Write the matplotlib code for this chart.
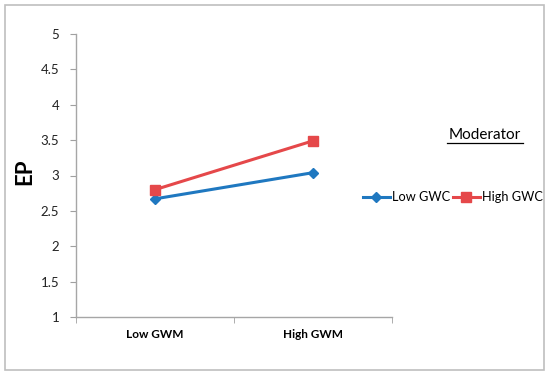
import matplotlib
matplotlib.use("Agg")
import matplotlib.pyplot as plt
from matplotlib.patches import Rectangle
from matplotlib.lines import Line2D

categories = ["Low GWM", "High GWM"]
low_gwc = [2.67, 3.04]
high_gwc = [2.80, 3.49]
yticks = [1, 1.5, 2, 2.5, 3, 3.5, 4, 4.5, 5]
ytick_labels = ["1", "1.5", "2", "2.5", "3", "3.5", "4", "4.5", "5"]

plt.rcParams['font.family'] = ['Lato', 'DejaVu Sans']

fig = plt.figure(figsize=(5.5, 3.76), dpi=100)
fig.patches.append(Rectangle((5/550, 6/376), 539/550, 365/376, transform=fig.transFigure,
                             fill=False, edgecolor='#BFBFBF', linewidth=1.2))

ax = fig.add_axes([76/550, 59/376, 316/550, 283/376])
x = list(range(len(categories)))
blue = '#1F78C0'
red = '#E5484A'
ax.plot(x, low_gwc, color=blue, lw=2.2, marker='D', ms=5.5, label='Low GWC')
ax.plot(x, high_gwc, color=red, lw=2.2, marker='s', ms=6.5, label='High GWC')

ax.set_xlim(-0.5, 1.5)
ax.set_ylim(1, 5)
ax.set_yticks(yticks)
ax.set_yticklabels(ytick_labels)
ax.set_xticks(x)
ax.set_xticklabels(categories, fontweight='bold', fontsize=8.5)
ax.set_xticks([-0.5, 0.5, 1.5], minor=True)
ax.tick_params(axis='x', which='major', length=0, pad=9)
ax.tick_params(axis='x', which='minor', length=4, color='#A0A0A0', direction='out')
ax.tick_params(axis='y', length=4, color='#A0A0A0', labelsize=9.5, pad=8, labelcolor='#222222')

for s in ['top', 'right']:
    ax.spines[s].set_visible(False)
for s in ['left', 'bottom']:
    ax.spines[s].set_color('#A6A6A6')
    ax.spines[s].set_linewidth(1.0)

fig.text(25/550, 1 - 172/376, 'EP', rotation=90, fontsize=16, fontweight='bold',
         ha='center', va='center')

fig.text(485/550, 1 - 135/376, 'Moderator', fontsize=11, ha='center', va='center')
fig.add_artist(Line2D([447/550, 523/550], [1 - 143/376, 1 - 143/376], color='black', lw=0.9))

leg = fig.legend(loc='center left', bbox_to_anchor=(363/550, 1 - 197/376), ncol=2, frameon=False,
                 fontsize=9.2, handlelength=2.1, columnspacing=0.25, handletextpad=0.15,
                 borderpad=0, borderaxespad=0)

fig.savefig('out.png', dpi=100)
